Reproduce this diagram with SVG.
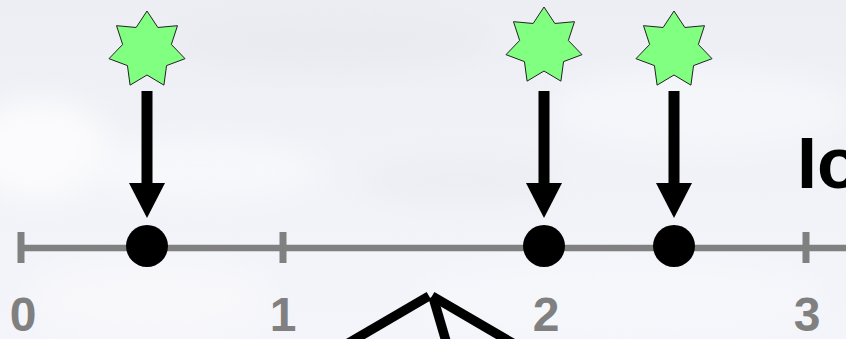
<svg xmlns="http://www.w3.org/2000/svg" xmlns:xlink="http://www.w3.org/1999/xlink" width="846" height="339" viewBox="0 0 846 339">
  <style>
    .star { fill: #80ff80; stroke: #222; stroke-width: 1; stroke-linejoin: miter; }
    .axis { stroke: #808080; stroke-width: 6.5; fill: none; }
    .tick { stroke: #808080; stroke-width: 7; }
    .dot { fill: #000; }
    .shaft { stroke: #000; stroke-width: 11; }
    .head { fill: #000; }
    .num { font-family: "Liberation Sans", Arial, sans-serif; font-weight: bold; font-size: 48px; fill: #808080; text-anchor: middle; }
    .title { font-family: "Liberation Sans", Arial, sans-serif; font-weight: bold; font-size: 72px; fill: #000; }
    .fig { stroke: #000; stroke-width: 9.5; fill: none; stroke-linecap: butt; }
  </style>
  <defs>
    <path id="star7" d="M0,-39 L10.85,-22.53 L30.49,-24.32 L24.37,-5.56 L38.02,8.68 L19.55,15.59 L16.92,35.14 L0,25 L-16.92,35.14 L-19.55,15.59 L-38.02,8.68 L-24.37,-5.56 L-30.49,-24.32 L-10.85,-22.53 Z"/>
    <linearGradient id="sky" x1="0" y1="0" x2="0" y2="1">
      <stop offset="0" stop-color="#eceef3"/>
      <stop offset="0.45" stop-color="#f1f2f7"/>
      <stop offset="1" stop-color="#f4f5fa"/>
    </linearGradient>
    <filter id="soft" x="-20%" y="-20%" width="140%" height="140%">
      <feGaussianBlur stdDeviation="14"/>
    </filter>
  </defs>

  <!-- cloudy sky backdrop -->
  <rect width="846" height="339" fill="url(#sky)"/>
  <g filter="url(#soft)">
    <ellipse cx="40" cy="150" rx="70" ry="50" fill="#fbfbfd"/>
    <ellipse cx="200" cy="170" rx="120" ry="30" fill="#f7f8fb"/>
    <ellipse cx="150" cy="300" rx="120" ry="40" fill="#f8f8fb"/>
    <ellipse cx="330" cy="40" rx="160" ry="30" fill="#e9ebf0"/>
    <ellipse cx="700" cy="110" rx="150" ry="40" fill="#f5f6fa"/>
    <ellipse cx="460" cy="180" rx="100" ry="25" fill="#eceef3"/>
    <ellipse cx="620" cy="300" rx="200" ry="40" fill="#f6f7fb"/>
  </g>

  <!-- number line -->
  <g id="axis">
    <line class="axis" x1="21" y1="248" x2="846" y2="248"/>
    <line class="tick" x1="21" y1="232" x2="21" y2="263"/>
    <line class="tick" x1="283" y1="232" x2="283" y2="263"/>
    <line class="tick" x1="545" y1="232" x2="545" y2="263"/>
    <line class="tick" x1="806" y1="232" x2="806" y2="263"/>
  </g>

  <g id="labels">
    <text class="num" x="23" y="331">0</text>
    <text class="num" x="283" y="331">1</text>
    <text class="num" x="546" y="331">2</text>
    <text class="num" x="807" y="331">3</text>
  </g>

  <text id="title" class="title" x="797" y="188">Io</text>

  <!-- sources -->
  <g id="star-a"><use href="#star7" class="star" x="147" y="50"/></g>
  <g id="star-b"><use href="#star7" class="star" x="544" y="46"/></g>
  <g id="star-c"><use href="#star7" class="star" x="674" y="50"/></g>

  <!-- events on the line -->
  <g id="dot-a"><circle class="dot" cx="147" cy="246" r="21"/></g>
  <g id="dot-b"><circle class="dot" cx="544" cy="246" r="21"/></g>
  <g id="dot-c"><circle class="dot" cx="674" cy="246" r="21"/></g>

  <!-- arrows -->
  <g id="connectors">
    <line class="shaft" x1="147" y1="91" x2="147" y2="184"/>
    <polygon class="head" points="129,183 165,183 147,218"/>
    <line class="shaft" x1="544" y1="91" x2="544" y2="184"/>
    <polygon class="head" points="526,183 562,183 544,218"/>
    <line class="shaft" x1="674" y1="91" x2="674" y2="184"/>
    <polygon class="head" points="656,183 692,183 674,218"/>
  </g>

  <!-- figure at the bottom -->
  <g id="figure">
    <line class="fig" x1="429" y1="296" x2="340" y2="348"/>
    <line class="fig" x1="432" y1="296" x2="521" y2="348"/>
    <line class="fig" x1="433" y1="297" x2="448" y2="348"/>
  </g>
</svg>
